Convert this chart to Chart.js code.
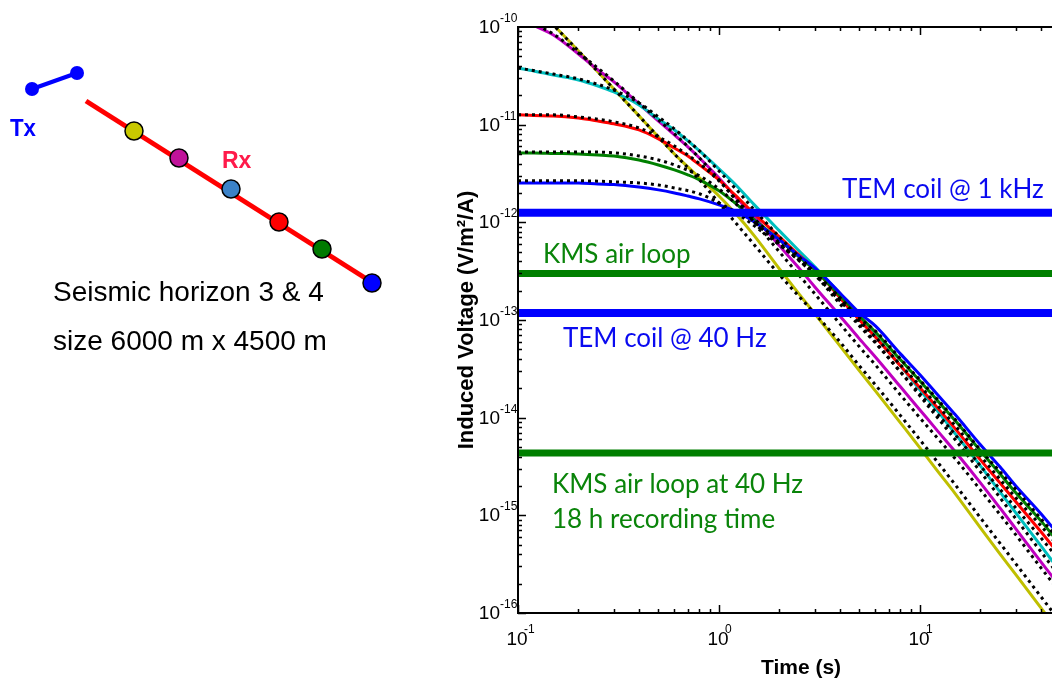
<!DOCTYPE html>
<html>
<head>
<meta charset="utf-8">
<script src="https://cdn.jsdelivr.net/npm/chart.js@4"></script>
<style>
  html, body { margin: 0; padding: 0; background: #fff; overflow: hidden; }
  #wrap { position: relative; width: 1052px; height: 681px; }
  canvas { position: absolute; left: 0; top: 0; }
</style>
</head>
<body>
<div id="wrap">
  <canvas id="graphique" width="1052" height="681"></canvas>
  <canvas id="schema" width="430" height="681"></canvas>
</div>
<script>
// temps (s) des courbes mesurees et des modeles
const temps = [0.1, 0.12, 0.15, 0.2, 0.25, 0.3, 0.4, 0.5, 0.6, 0.7, 0.8, 1, 1.2, 1.5, 2, 2.5, 3, 4, 5, 6, 8, 10, 12, 15, 20, 25, 30, 40, 50, 60];
const tempsModele = [0.1, 0.15, 0.2, 0.3, 0.4, 0.5, 0.6, 0.8, 1, 1.2, 1.5, 2, 3, 4, 5, 6, 8, 10, 15, 20, 30, 40, 60];

// tension induite (V/m2/A) pour chaque recepteur
const rxJaune = [2.63e-10, 1.68e-10, 1.05e-10, 5.68e-11, 3.46e-11, 2.32e-11, 1.23e-11, 7.49e-12, 5.01e-12, 3.70e-12, 2.85e-12, 1.86e-12, 1.25e-12, 7.27e-13, 3.33e-13, 1.85e-13, 1.16e-13, 5.43e-14, 3.02e-14, 1.88e-14, 8.85e-15, 4.91e-15, 2.99e-15, 1.66e-15, 7.45e-16, 4.04e-16, 2.47e-16, 1.13e-16, 6.12e-17, 3.74e-17];
const rxMagenta = [1.27e-10, 1.04e-10, 8.29e-11, 5.29e-11, 3.63e-11, 2.74e-11, 1.63e-11, 1.09e-11, 7.84e-12, 5.92e-12, 4.56e-12, 2.85e-12, 1.86e-12, 1.14e-12, 5.74e-13, 3.41e-13, 2.18e-13, 1.10e-13, 6.41e-14, 4.19e-14, 2.07e-14, 1.20e-14, 7.68e-15, 4.47e-15, 2.15e-15, 1.19e-15, 7.28e-16, 3.34e-16, 1.85e-16, 1.16e-16];
const rxCyan = [3.81e-11, 3.55e-11, 3.22e-11, 2.87e-11, 2.49e-11, 2.16e-11, 1.59e-11, 1.14e-11, 8.83e-12, 6.81e-12, 5.38e-12, 3.53e-12, 2.47e-12, 1.51e-12, 8.18e-13, 5.11e-13, 3.50e-13, 1.85e-13, 1.05e-13, 6.87e-14, 3.39e-14, 1.92e-14, 1.23e-14, 6.82e-15, 3.21e-15, 1.74e-15, 1.06e-15, 4.87e-16, 2.65e-16, 1.65e-16];
const rxRouge = [1.26e-11, 1.24e-11, 1.23e-11, 1.17e-11, 1.09e-11, 1.02e-11, 8.83e-12, 7.15e-12, 5.77e-12, 4.78e-12, 3.87e-12, 2.72e-12, 1.91e-12, 1.22e-12, 7.09e-13, 4.64e-13, 3.33e-13, 1.69e-13, 1.00e-13, 6.71e-14, 3.39e-14, 2.02e-14, 1.32e-14, 7.68e-15, 3.70e-15, 2.15e-15, 1.38e-15, 6.78e-16, 3.85e-16, 2.47e-16];
const rxVert = [5.14e-12, 5.14e-12, 5.08e-12, 5.01e-12, 4.90e-12, 4.78e-12, 4.35e-12, 3.87e-12, 3.44e-12, 3.06e-12, 2.72e-12, 2.10e-12, 1.58e-12, 1.06e-12, 6.61e-13, 4.43e-13, 3.26e-13, 1.77e-13, 1.10e-13, 7.55e-14, 3.91e-14, 2.38e-14, 1.56e-14, 9.28e-15, 4.58e-15, 2.66e-15, 1.70e-15, 8.78e-16, 4.99e-16, 3.26e-16];
const rxBleu = [2.53e-12, 2.53e-12, 2.53e-12, 2.53e-12, 2.47e-12, 2.44e-12, 2.30e-12, 2.15e-12, 2.00e-12, 1.86e-12, 1.74e-12, 1.51e-12, 1.31e-12, 1.01e-12, 6.61e-13, 4.54e-13, 3.41e-13, 1.89e-13, 1.18e-13, 8.70e-14, 4.50e-14, 2.75e-14, 1.80e-14, 1.07e-14, 5.27e-15, 3.14e-15, 2.00e-15, 1.04e-15, 6.03e-16, 3.94e-16];

// modeles (pointilles noirs)
const modJaune = [2.63e-10, 1.05e-10, 5.68e-11, 2.32e-11, 1.23e-11, 7.49e-12, 5.01e-12, 2.72e-12, 1.58e-12, 1.01e-12, 5.87e-13, 2.90e-13, 1.16e-13, 5.97e-14, 3.39e-14, 2.17e-14, 1.05e-14, 5.93e-15, 2.05e-15, 9.43e-16, 3.19e-16, 1.47e-16, 4.95e-17];
const modMagenta = [1.27e-10, 8.48e-11, 5.42e-11, 2.80e-11, 1.67e-11, 1.12e-11, 8.04e-12, 4.56e-12, 2.72e-12, 1.74e-12, 1.01e-12, 4.97e-13, 1.85e-13, 9.13e-14, 5.31e-14, 3.47e-14, 1.71e-14, 9.95e-15, 3.79e-15, 1.82e-15, 6.31e-16, 2.90e-16, 1.01e-16];
const modCyan = [3.81e-11, 3.30e-11, 2.94e-11, 2.26e-11, 1.67e-11, 1.20e-11, 9.05e-12, 5.38e-12, 3.36e-12, 2.25e-12, 1.34e-12, 7.09e-13, 3.04e-13, 1.61e-13, 9.13e-14, 5.97e-14, 2.94e-14, 1.67e-14, 5.93e-15, 2.79e-15, 9.22e-16, 4.23e-16, 1.43e-16];
const modRouge = [1.26e-11, 1.26e-11, 1.20e-11, 1.07e-11, 9.25e-12, 7.49e-12, 6.05e-12, 3.99e-12, 2.66e-12, 1.78e-12, 1.09e-12, 6.15e-13, 2.90e-13, 1.46e-13, 8.70e-14, 5.83e-14, 2.94e-14, 1.75e-14, 6.67e-15, 3.21e-15, 1.19e-15, 5.88e-16, 2.13e-16];
const modVert = [5.26e-12, 5.26e-12, 5.26e-12, 5.14e-12, 4.78e-12, 4.35e-12, 3.87e-12, 2.99e-12, 2.20e-12, 1.58e-12, 1.01e-12, 6.01e-13, 2.90e-13, 1.57e-13, 9.79e-14, 6.71e-14, 3.47e-14, 2.11e-14, 8.25e-15, 4.06e-15, 1.51e-15, 7.80e-16, 2.90e-16];
const modBleu = [2.66e-12, 2.66e-12, 2.66e-12, 2.60e-12, 2.53e-12, 2.41e-12, 2.25e-12, 1.96e-12, 1.58e-12, 1.28e-12, 9.20e-13, 5.87e-13, 3.04e-13, 1.69e-13, 1.05e-13, 7.73e-14, 3.99e-14, 2.43e-14, 9.50e-15, 4.68e-15, 1.84e-15, 9.22e-16, 3.51e-16];

// niveaux de bruit des capteurs
const niveauxNoms = ["TEM coil @ 1 kHz", "KMS air loop", "TEM coil @ 40 Hz", "KMS air loop at 40 Hz"];
const niveauxValeurs = [1.25e-12, 3.0e-13, 1.18e-13, 4.36e-15];
const niveauxCouleurs = ["#0000ff", "#007f00", "#0000ff", "#007f00"];

// graduations
const xMajeurs = [0.1, 1, 10];
const xExposants = ["-1", "0", "1"];
const yMajeurs = [1e-16, 1e-15, 1e-14, 1e-13, 1e-12, 1e-11, 1e-10];
const yExposants = ["-16", "-15", "-14", "-13", "-12", "-11", "-10"];

// schema : emetteur et recepteurs (coordonnees du schema)
const txX = [32, 77];
const txY = [89, 73];
const profilX = [86, 373];
const profilY = [101, 283];
const recX = [134, 179, 231, 279, 322, 372];
const recY = [131, 158, 189, 222, 249, 283];
const recCouleurs = ["#c8c800", "#c0139a", "#3b82c8", "#ff0000", "#007a00", "#0000ff"];

const versPoints = (xs, ys) => xs.map((t, i) => ({ x: t, y: ys[i] }));

const courbe = (vals, couleur) => ({
  data: versPoints(temps, vals),
  borderColor: couleur,
  borderWidth: 3,
  pointRadius: 0,
  cubicInterpolationMode: "monotone",
  clip: 0,
  order: 2,
});
const modele = (vals) => ({
  data: versPoints(tempsModele, vals),
  borderColor: "#000",
  borderWidth: 3,
  borderDash: [3, 4],
  borderCapStyle: "butt",
  pointRadius: 0,
  cubicInterpolationMode: "monotone",
  clip: 0,
  order: 1,
});
const niveau = (i) => ({
  data: [{ x: 0.1, y: niveauxValeurs[i] }, { x: 60, y: niveauxValeurs[i] }],
  borderColor: niveauxCouleurs[i],
  borderWidth: i % 2 === 0 ? 8 : 7,
  pointRadius: 0,
  clip: 0,
  order: 0,
});

const policeAxe = '"Liberation Sans", Arial, sans-serif';

//cadre, graduations vers l'interieur et textes facon matlab
const habillage = {
  id: "habillage",
  afterDatasetsDraw(chart) {
    const { ctx, chartArea: a, scales: { x, y } } = chart;
    ctx.save();
    ctx.strokeStyle = "#000";
    ctx.lineWidth = 1.5;
    ctx.beginPath();
    for (let e = -1; e <= 1; e++) {
      for (let k = 1; k <= 9; k++) {
        const v = k * Math.pow(10, e);
        if (v < x.min || v > x.max) continue;
        const px = Math.round(x.getPixelForValue(v)) + 0.5;
        const l = k === 1 ? 8 : 4;
        ctx.moveTo(px, a.bottom); ctx.lineTo(px, a.bottom - l);
        ctx.moveTo(px, a.top); ctx.lineTo(px, a.top + l);
      }
    }
    for (let e = -16; e <= -11; e++) {
      for (let k = 1; k <= 9; k++) {
        const v = k * Math.pow(10, e);
        const py = Math.round(y.getPixelForValue(v)) + 0.5;
        const l = k === 1 ? 8 : 4;
        ctx.moveTo(a.left, py); ctx.lineTo(a.left + l, py);
      }
    }
    ctx.stroke();
    ctx.lineWidth = 2;
    ctx.strokeRect(a.left, a.top, a.right - a.left + 4, a.bottom - a.top);
    ctx.restore();
  },
  afterDraw(chart) {
    const { ctx, chartArea: a, scales: { x, y } } = chart;
    ctx.save();
    ctx.fillStyle = "#000";
    ctx.textBaseline = "alphabetic";
    // etiquettes de l'axe y
    yMajeurs.forEach((v, i) => {
      const py = y.getPixelForValue(v);
      ctx.font = "19px " + policeAxe;
      ctx.textAlign = "right";
      ctx.fillText("10", 500, py + 6);
      ctx.font = "12px " + policeAxe;
      ctx.textAlign = "left";
      ctx.fillText(yExposants[i], 500, py - 5);
    });
    // etiquettes de l'axe x
    xMajeurs.forEach((v, i) => {
      const px = x.getPixelForValue(v);
      ctx.font = "19px " + policeAxe;
      ctx.textAlign = "center";
      ctx.fillText("10", px - 1, a.bottom + 32);
      ctx.font = "12px " + policeAxe;
      ctx.textAlign = "left";
      ctx.fillText(xExposants[i], px + 6, a.bottom + 20);
    });
    // titres des axes
    ctx.font = "bold 21px " + policeAxe;
    ctx.textAlign = "center";
    ctx.fillText("Time (s)", 801, 674);
    ctx.translate(473, (a.top + a.bottom) / 2);
    ctx.rotate(-Math.PI / 2);
    ctx.font = "bold 22px " + policeAxe;
    ctx.fillText("Induced Voltage (V/m\u00b2/A)", 0, 0);
    ctx.restore();

    // annotations des niveaux
    ctx.save();
    ctx.font = '26px Lato, "Open Sans", sans-serif';
    ctx.textAlign = "left";
    const annot = [
      { t: niveauxNoms[0], x: 842, dy: -15, w: 208, c: "#0a0af0" },
      { t: niveauxNoms[1], x: 543, dy: -10, w: 152, c: "#0a840a" },
      { t: niveauxNoms[2], x: 563, dy: 34, w: 207, c: "#0a0af0" },
    ];
    annot.forEach((n, i) => {
      ctx.fillStyle = n.c;
      ctx.fillText(n.t, n.x, y.getPixelForValue(niveauxValeurs[i]) + n.dy, n.w);
    });
    const y40 = y.getPixelForValue(niveauxValeurs[3]);
    ctx.fillStyle = "#0a840a";
    ctx.fillText(niveauxNoms[3], 552, y40 + 40, 258);
    ctx.fillText("18 h recording time", 552, y40 + 75, 236);
    ctx.restore();
  },
};

new Chart(document.querySelector("#graphique"), {
  type: "line",
  data: {
    datasets: [
      niveau(0), niveau(1), niveau(2), niveau(3),
      modele(modJaune), modele(modMagenta), modele(modCyan),
      modele(modRouge), modele(modVert), modele(modBleu),
      courbe(rxBleu, "#0000ff"),
      courbe(rxVert, "#008000"),
      courbe(rxRouge, "#ff0000"),
      courbe(rxCyan, "#00bfbf"),
      courbe(rxMagenta, "#bf00bf"),
      courbe(rxJaune, "#bfbf00"),
    ],
  },
  options: {
    responsive: false,
    animation: false,
    devicePixelRatio: 1,
    events: [],
    layout: { autoPadding: false, padding: { left: 518, top: 27, right: 0, bottom: 68 } },
    plugins: { legend: { display: false }, tooltip: { enabled: false } },
    scales: {
      x: { type: "logarithmic", min: 0.1, max: 45.4, display: false },
      y: { type: "logarithmic", min: 1e-16, max: 1e-10, display: false },
    },
  },
  plugins: [habillage],
});

// schema de l'acquisition
const textesSchema = {
  id: "textesSchema",
  afterDraw(chart) {
    const ctx = chart.ctx;
    ctx.save();
    ctx.textAlign = "left";
    ctx.textBaseline = "alphabetic";
    ctx.font = "bold 24px " + policeAxe;
    ctx.fillStyle = "#0000ff";
    ctx.fillText("Tx", 10, 136, 26);
    ctx.font = "bold 23px " + policeAxe;
    ctx.fillStyle = "#ff1a4a";
    ctx.fillText("Rx", 222, 168, 30);
    ctx.font = "28px " + policeAxe;
    ctx.fillStyle = "#000";
    ctx.fillText("Seismic horizon 3 & 4", 53, 301);
    ctx.fillText("size 6000 m x 4500 m", 53, 350);
    ctx.restore();
  },
};

new Chart(document.querySelector("#schema"), {
  type: "scatter",
  data: {
    datasets: [
      {
        data: versPoints(recX, recY),
        pointRadius: 9,
        pointBackgroundColor: recCouleurs,
        pointBorderColor: "#000",
        pointBorderWidth: 1.5,
        showLine: false,
        clip: false,
        order: 0,
      },
      {
        data: versPoints(profilX, profilY),
        showLine: true,
        borderColor: "#ff0000",
        borderWidth: 5,
        pointRadius: 0,
        clip: false,
        order: 2,
      },
      {
        data: versPoints(txX, txY),
        showLine: true,
        borderColor: "#0000ff",
        borderWidth: 4,
        pointRadius: 7,
        pointBackgroundColor: "#0000ff",
        pointBorderWidth: 0,
        clip: false,
        order: 1,
      },
    ],
  },
  options: {
    responsive: false,
    animation: false,
    devicePixelRatio: 1,
    events: [],
    layout: { autoPadding: false, padding: 0 },
    plugins: { legend: { display: false }, tooltip: { enabled: false } },
    scales: {
      x: { type: "linear", min: 0, max: 430, display: false },
      y: { type: "linear", min: 0, max: 681, reverse: true, display: false },
    },
  },
  plugins: [textesSchema],
});
</script>
</body>
</html>
